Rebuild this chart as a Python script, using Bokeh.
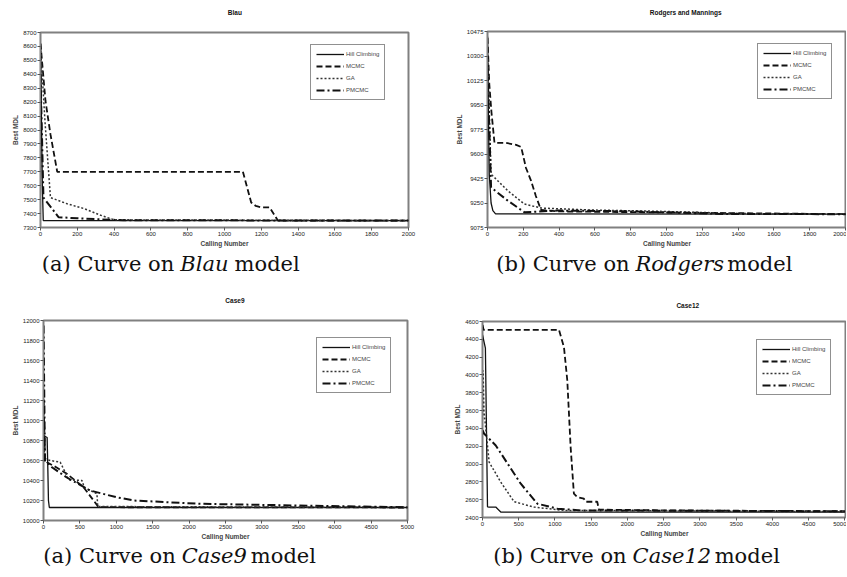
from bokeh.plotting import figure
from bokeh.models import FixedTicker, Range1d, Legend, LegendItem
from bokeh.layouts import column, row
from bokeh.embed import file_html
from bokeh.resources import INLINE
from bokeh.core.properties import value

SERIES = ["Hill Climbing", "MCMC", "GA", "PMCMC"]
X_LABEL = "Calling Number"
Y_LABEL = "Best MDL"

# ---- Blau ----
blau_hc_x = [0, 5, 10, 15, 2000]
blau_hc_y = [8620, 8100, 7600, 7350, 7350]
blau_mcmc_x = [0, 27, 54, 91, 1100, 1145, 1170, 1200, 1245, 1290, 2000]
blau_mcmc_y = [8620, 8210, 7970, 7700, 7700, 7480, 7455, 7445, 7445, 7350, 7350]
blau_ga_x = [0, 25, 54, 145, 236, 327, 400, 2000]
blau_ga_y = [8600, 8050, 7515, 7470, 7436, 7388, 7355, 7350]
blau_pmcmc_x = [0, 16, 60, 98, 200, 300, 450, 2000]
blau_pmcmc_y = [8400, 7515, 7440, 7374, 7366, 7360, 7352, 7350]
blau_xticks = [0, 200, 400, 600, 800, 1000, 1200, 1400, 1600, 1800, 2000]
blau_yticks = [7300, 7400, 7500, 7600, 7700, 7800, 7900, 8000, 8100, 8200, 8300, 8400, 8500, 8600, 8700]

# ---- Rodgers and Mannings ----
rod_hc_x = [0, 5, 10, 20, 30, 45, 2000]
rod_hc_y = [10440, 9900, 9450, 9250, 9195, 9172, 9170]
rod_mcmc_x = [0, 10, 22, 39, 100, 160, 188, 215, 243, 270, 299, 400, 2000]
rod_mcmc_y = [10430, 10100, 9900, 9680, 9680, 9665, 9650, 9500, 9410, 9300, 9200, 9190, 9170]
rod_ga_x = [0, 20, 113, 206, 299, 578, 949, 1506, 2000]
rod_ga_y = [10335, 9456, 9338, 9243, 9214, 9200, 9191, 9172, 9170]
rod_pmcmc_x = [0, 20, 113, 206, 392, 763, 1320, 2000]
rod_pmcmc_y = [10215, 9361, 9267, 9184, 9196, 9191, 9172, 9170]
rod_xticks = [0, 200, 400, 600, 800, 1000, 1200, 1400, 1600, 1800, 2000]
rod_yticks = [9075, 9250, 9425, 9600, 9775, 9950, 10125, 10300, 10475]

# ---- Case9 ----
c9_hc_x = [0, 50, 60, 68, 80, 5000]
c9_hc_y = [10850, 10830, 10500, 10200, 10130, 10130]
c9_mcmc_x = [0, 20, 46, 180, 321, 550, 757, 5000]
c9_mcmc_y = [11300, 10620, 10583, 10530, 10467, 10333, 10133, 10130]
c9_ga_x = [0, 15, 92, 229, 300, 344, 528, 560, 734, 745, 5000]
c9_ga_y = [11100, 10620, 10600, 10583, 10480, 10407, 10400, 10330, 10267, 10140, 10130]
c9_pmcmc_x = [0, 10, 20, 120, 320, 640, 1000, 1240, 1700, 2150, 3500, 5000]
c9_pmcmc_y = [11950, 11300, 10600, 10530, 10430, 10300, 10233, 10200, 10183, 10167, 10150, 10133]
c9_xticks = [0, 500, 1000, 1500, 2000, 2500, 3000, 3500, 4000, 4500, 5000]
c9_yticks = [10000, 10200, 10400, 10600, 10800, 11000, 11200, 11400, 11600, 11800, 12000]

# ---- Case12 ----
c12_hc_x = [0, 40, 69, 92, 183, 252, 5000]
c12_hc_y = [4450, 4300, 2520, 2517, 2517, 2461, 2461]
c12_mcmc_x = [0, 15, 1055, 1124, 1170, 1216, 1261, 1307, 1399, 1422, 1583, 1606, 2500, 5000]
c12_mcmc_y = [4560, 4507, 4507, 4312, 3938, 3190, 2667, 2630, 2611, 2577, 2577, 2488, 2480, 2470]
c12_ga_x = [0, 8, 20, 92, 250, 436, 711, 1124, 5000]
c12_ga_y = [3500, 4050, 3600, 3021, 2800, 2577, 2517, 2480, 2465]
c12_pmcmc_x = [0, 23, 183, 350, 528, 757, 1032, 1353, 5000]
c12_pmcmc_y = [3380, 3340, 3209, 3000, 2779, 2555, 2499, 2480, 2470]
c12_xticks = [0, 500, 1000, 1500, 2000, 2500, 3000, 3500, 4000, 4500, 5000]
c12_yticks = [2400, 2600, 2800, 3000, 3200, 3400, 3600, 3800, 4000, 4200, 4400, 4600]

STYLE = {
    "Hill Climbing": dict(line_dash="solid", line_width=1.3, line_color="#111111"),
    "MCMC": dict(line_dash="6 3", line_width=1.8, line_color="#111111"),
    "GA": dict(line_dash="2 2", line_width=1.5, line_color="#333333"),
    "PMCMC": dict(line_dash="8 3 2 3", line_width=2.0, line_color="#111111"),
}

SANS = "Liberation Sans"
SERIF = "DejaVu Serif"
CAP_SIZE = 21
GAP = 7


def strip(width, height):
    c = figure(width=width, height=height, output_backend="svg", toolbar_location=None,
               x_range=Range1d(0, width), y_range=Range1d(0, height),
               x_axis_type=None, y_axis_type=None, min_border=0)
    c.grid.visible = False
    c.outline_line_color = None
    return c


def header(width, height, x_center, y_from_top, text):
    c = strip(width, height)
    c.text(x=[x_center], y=[height - y_from_top], text=[text], text_font=value(SANS),
           text_font_size=value("6.5px"), text_font_style=value("bold"),
           text_align=value("center"), text_baseline=value("middle"), text_color="#111111")
    return c


def panel(series, xr, yr, xticks, yticks, width, height, bl, br, bt, bb, leg_loc):
    p = figure(width=width, height=height, output_backend="svg", toolbar_location=None,
               x_range=Range1d(*xr), y_range=Range1d(*yr),
               min_border_left=bl, min_border_right=br, min_border_top=bt, min_border_bottom=bb)
    p.grid.visible = False
    p.outline_line_color = "#808080"
    p.outline_line_width = 2
    p.background_fill_color = "white"
    p.border_fill_color = "white"
    for ax, ticks, lab in ((p.xaxis, xticks, X_LABEL), (p.yaxis, yticks, Y_LABEL)):
        ax.ticker = FixedTicker(ticks=ticks)
        ax.axis_label = lab
        ax.axis_label_text_font = SANS
        ax.axis_label_text_font_size = "6.5px"
        ax.axis_label_text_font_style = "bold"
        ax.axis_label_standoff = 1
        ax.major_label_text_font = SANS
        ax.major_label_text_font_size = "6px"
        ax.major_label_text_color = "#222222"
        ax.major_label_standoff = 1
        ax.major_tick_out = 3
        ax.major_tick_in = 0
        ax.minor_tick_out = 0
        ax.minor_tick_in = 0
        ax.axis_line_color = "#808080"
        ax.major_tick_line_color = "#555555"
    items = []
    for name, (xs, ys) in zip(SERIES, series):
        r = p.line(xs, ys, **STYLE[name])
        items.append(LegendItem(label=name, renderers=[r]))
    leg = Legend(items=items, location=leg_loc)
    leg.label_text_font = SANS
    leg.label_text_font_size = "6px"
    leg.glyph_width = 28
    leg.glyph_height = 8
    leg.label_height = 8
    leg.label_standoff = 2
    leg.spacing = 4
    leg.padding = 5
    leg.margin = 0
    leg.border_line_color = "#222222"
    leg.border_line_width = 1.2
    leg.background_fill_color = "white"
    p.add_layout(leg)
    return p


def caption(width, height, x_it, y_from_top, prefix, model, model_em):
    c = strip(width, height)
    y = height - y_from_top
    common = dict(text_font=value(SERIF), text_font_size=value(f"{CAP_SIZE}px"),
                  text_baseline=value("middle"), text_color="#111111")
    c.text(x=[x_it - GAP], y=[y], text=[prefix], text_align=value("right"), **common)
    c.text(x=[x_it], y=[y], text=[model], text_align=value("left"),
           text_font_style=value("italic"), **common)
    c.text(x=[x_it + model_em * CAP_SIZE + GAP], y=[y], text=["model"],
           text_align=value("left"), **common)
    return c


h1 = header(424, 20, 224, 12, "Blau")
h2 = header(422, 20, 233, 12, "Rodgers and Mannings")
h3 = header(424, 30, 223, 20, "Case9")
h4 = header(422, 30, 238, 25, "Case12")

p1 = panel([(blau_hc_x, blau_hc_y), (blau_mcmc_x, blau_mcmc_y), (blau_ga_x, blau_ga_y), (blau_pmcmc_x, blau_pmcmc_y)],
           (0, 2000), (7300, 8700), blau_xticks, blau_yticks,
           424, 230, 40, 16, 12, 23, (270, 127))
p2 = panel([(rod_hc_x, rod_hc_y), (rod_mcmc_x, rod_mcmc_y), (rod_ga_x, rod_ga_y), (rod_pmcmc_x, rod_pmcmc_y)],
           (0, 2005), (9075, 10475), rod_xticks, rod_yticks,
           422, 230, 63, 0, 11, 23, (270, 128))
p3 = panel([(c9_hc_x, c9_hc_y), (c9_mcmc_x, c9_mcmc_y), (c9_ga_x, c9_ga_y), (c9_pmcmc_x, c9_pmcmc_y)],
           (0, 5000), (10000, 12000), c9_xticks, c9_yticks,
           424, 232, 43, 17, 10, 22, (273, 127))
p4 = panel([(c12_hc_x, c12_hc_y), (c12_mcmc_x, c12_mcmc_y), (c12_ga_x, c12_ga_y), (c12_pmcmc_x, c12_pmcmc_y)],
           (0, 5022), (2400, 4600), c12_xticks, c12_yticks,
           422, 230, 58, 0, 11, 23, (274, 122))

c1 = caption(424, 30, 161, 13, "(a) Curve on", "Blau", 2.65)
c2 = caption(422, 30, 174, 13, "(b) Curve on", "Rodgers", 4.8)
c3 = caption(424, 34, 161, 13, "(a) Curve on", "Case9", 3.5)
c4 = caption(422, 36, 174, 15, "(b) Curve on", "Case12", 4.2)

layout = column(row(column(h1, p1, c1), column(h2, p2, c2)),
                row(column(h3, p3, c3), column(h4, p4, c4)))
open("out.html", "w").write(file_html(layout, INLINE))
